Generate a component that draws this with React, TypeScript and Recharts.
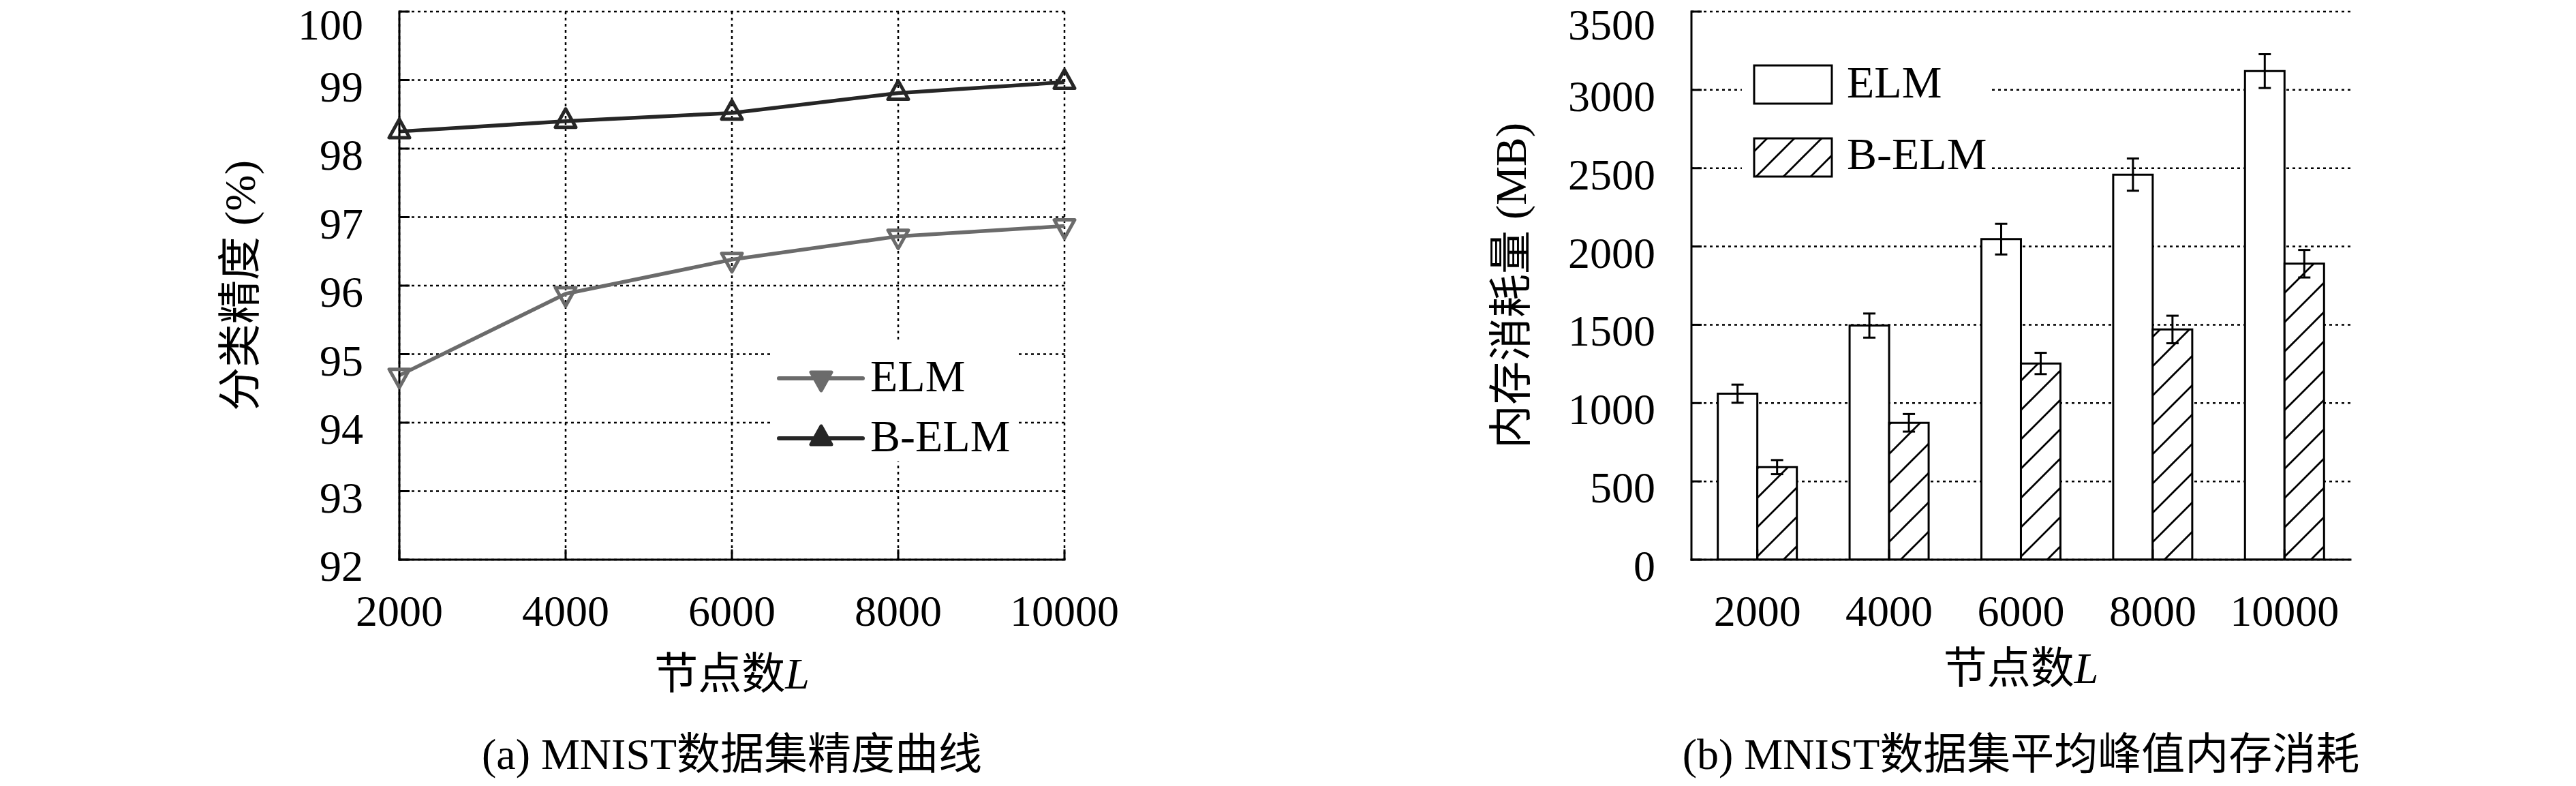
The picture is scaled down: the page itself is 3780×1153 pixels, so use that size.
import {
  Bar,
  BarChart,
  CartesianGrid,
  ErrorBar,
  Label,
  Legend,
  Line,
  LineChart,
  XAxis,
  YAxis,
} from "recharts";

// x categories shared by both panels
const nodeCounts = [2000, 4000, 6000, 8000, 10000];

// (a) accuracy, %
const elmAccuracy = [94.69, 95.88, 96.38, 96.72, 96.87];
const belmAccuracy = [98.25, 98.4, 98.52, 98.81, 98.97];
const accuracyTicks = [92, 93, 94, 95, 96, 97, 98, 99, 100];

// (b) peak memory, MB, with error half-widths
const elmMemory = [1060, 1495, 2047, 2459, 3120];
const elmMemoryErr = [58, 77, 98, 103, 108];
const belmMemory = [591, 874, 1253, 1470, 1890];
const belmMemoryErr = [45, 56, 68, 88, 88];
const memoryTicks = [0, 500, 1000, 1500, 2000, 2500, 3000, 3500];

const accuracyData = nodeCounts.map((n, i) => ({
  nodes: n,
  elm: elmAccuracy[i],
  belm: belmAccuracy[i],
}));

const memoryData = nodeCounts.map((n, i) => ({
  nodes: String(n),
  elm: elmMemory[i],
  elmErr: elmMemoryErr[i],
  belm: belmMemory[i],
  belmErr: belmMemoryErr[i],
}));

const FONT = '"Liberation Serif", "Noto Sans CJK SC", serif';
const FS = 64;
const KEY_FS = 66;
const CHART_W = 1890;
const CHART_H = 1153;
const TICK_LEN = 15;
const LABEL_GAP = 53;
const ELM_GRAY = "#6b6b6b";
const BELM_DARK = "#262626";

const frame = { stroke: "#000", strokeWidth: 3, strokeLinecap: "square" as const };

// top label would poke out of the page otherwise
const leftTick = (p: any) => (
  <g>
    <text
      x={p.x}
      y={Math.max(p.y + 31, 58)}
      textAnchor="end"
      fontFamily={FONT}
      fontSize={FS}
      fill="#000"
    >
      {p.payload.value}
    </text>
    <line x1={p.x + LABEL_GAP} x2={p.x + LABEL_GAP + TICK_LEN} y1={p.y} y2={p.y} stroke="#000" strokeWidth={3} />
  </g>
);

const bottomTick = (p: any) => (
  <g>
    <text x={p.x} y={p.y + 97} textAnchor="middle" fontFamily={FONT} fontSize={FS} fill="#000">
      {p.payload.value}
    </text>
    <line x1={p.x} x2={p.x} y1={p.y} y2={p.y - TICK_LEN} stroke="#000" strokeWidth={3} />
  </g>
);

const topTick = (p: any) => (
  <line x1={p.x} x2={p.x} y1={p.y} y2={p.y + TICK_LEN} stroke="#000" strokeWidth={3} />
);

const rightTick = (p: any) => (
  <line x1={p.x - TICK_LEN} x2={p.x} y1={p.y} y2={p.y} stroke="#000" strokeWidth={3} />
);

const yTitle = (text: string, offset: number) => (props: any) => {
  const vb = props.viewBox ?? { x: 0, y: 0, width: 0, height: 0 };
  const cx = vb.x + vb.width - offset;
  const cy = vb.y + vb.height / 2;
  return (
    <text
      x={cx}
      y={cy}
      transform={`rotate(-90 ${cx} ${cy})`}
      textAnchor="middle"
      dominantBaseline="central"
      fontFamily={FONT}
      fontSize={FS}
      fill="#000"
    >
      {text}
    </text>
  );
};

const xTitle = (caption: string, titleDrop: number) => (props: any) => {
  const vb = props.viewBox ?? { x: 0, y: 0, width: 0, height: 0 };
  const cx = vb.x + vb.width / 2;
  return (
    <g fontFamily={FONT} fontSize={FS} fill="#000">
      <text x={cx} y={vb.y + titleDrop} textAnchor="middle">
        节点数<tspan fontStyle="italic">L</tspan>
      </text>
      <text x={cx} y={vb.y + 307} textAnchor="middle">
        {caption}
      </text>
    </g>
  );
};

const trianglePath = (cx: number, cy: number, down: boolean) =>
  down
    ? `M${cx - 15},${cy - 9} L${cx + 15},${cy - 9} L${cx},${cy + 18} Z`
    : `M${cx - 15},${cy + 9} L${cx + 15},${cy + 9} L${cx},${cy - 18} Z`;

const triangleDot = (color: string, down: boolean) => (props: any) => {
  const { cx, cy, index } = props;
  if (cx == null || cy == null) return <g key={`d-${index}`} />;
  return (
    <path
      key={`d-${index}`}
      d={trianglePath(cx, cy, down)}
      fill="none"
      stroke={color}
      strokeWidth={5}
      strokeLinejoin="round"
    />
  );
};

const lineKeyRows = [
  { name: "ELM", color: ELM_GRAY, down: true, y: 55 },
  { name: "B-ELM", color: BELM_DARK, down: false, y: 143 },
];

const renderLineKey = () => (
  <div style={{ width: 360, height: 177, background: "#fff" }}>
    <svg width={360} height={177} style={{ display: "block", overflow: "visible" }}>
      {lineKeyRows.map((r) => (
        <g key={r.name}>
          <line x1={10} x2={133} y1={r.y} y2={r.y} stroke={r.color} strokeWidth={6} strokeLinecap="round" />
          <path d={trianglePath(72, r.y, r.down)} fill={r.color} stroke={r.color} strokeWidth={5} strokeLinejoin="round" />
          <text x={144} y={r.y + 19} fontFamily={FONT} fontSize={KEY_FS} fill="#000">
            {r.name}
          </text>
        </g>
      ))}
    </svg>
  </div>
);

const barKeyRows = [
  { name: "ELM", fill: "#fff", top: 16, base: 63 },
  { name: "B-ELM", fill: "url(#hatchKey)", top: 123, base: 168 },
];

const renderBarKey = () => (
  <div style={{ width: 362, height: 195, background: "#fff" }}>
    <svg width={362} height={195} style={{ display: "block", overflow: "visible" }}>
      <defs>
        <pattern id="hatchKey" patternUnits="userSpaceOnUse" width={40} height={40}>
          <rect width={40} height={40} fill="#fff" />
          <path d="M0,40 L40,0 M-10,10 L10,-10 M30,50 L50,30" stroke="#000" strokeWidth={2.8} />
        </pattern>
      </defs>
      {barKeyRows.map((r) => (
        <g key={r.name}>
          <rect x={18} y={r.top} width={114} height={56} fill={r.fill} stroke="#000" strokeWidth={3} />
          <text x={154} y={r.base} fontFamily={FONT} fontSize={KEY_FS} fill="#000">
            {r.name}
          </text>
        </g>
      ))}
    </svg>
  </div>
);

function AccuracyPanel() {
  return (
    <LineChart
      width={CHART_W}
      height={CHART_H}
      data={accuracyData}
      margin={{ top: 17, right: 328, bottom: 0, left: 386 }}
    >
      <CartesianGrid stroke="#000" strokeDasharray="4 5" strokeWidth={2.5} />
      <XAxis
        dataKey="nodes"
        type="number"
        domain={[2000, 10000]}
        ticks={nodeCounts}
        height={332}
        tickSize={0}
        tickMargin={0}
        tickLine={false}
        axisLine={frame}
        tick={bottomTick}
        label={<Label content={xTitle("(a) MNIST数据集精度曲线", 189)} />}
      />
      <XAxis
        xAxisId="top"
        orientation="top"
        dataKey="nodes"
        type="number"
        domain={[2000, 10000]}
        ticks={nodeCounts}
        height={0}
        tickSize={0}
        tickMargin={0}
        tickLine={false}
        axisLine={frame}
        tick={topTick}
      />
      <YAxis
        type="number"
        domain={[92, 100]}
        ticks={accuracyTicks}
        width={200}
        tickSize={0}
        tickMargin={LABEL_GAP}
        tickLine={false}
        axisLine={frame}
        tick={leftTick}
        label={<Label content={yTitle("分类精度 (%)", 234)} />}
      />
      <YAxis
        yAxisId="right"
        orientation="right"
        type="number"
        domain={[92, 100]}
        ticks={accuracyTicks}
        width={0}
        tickSize={0}
        tickMargin={0}
        tickLine={false}
        axisLine={frame}
        tick={rightTick}
      />
      <Legend
        layout="horizontal"
        verticalAlign="middle"
        align="center"
        content={renderLineKey}
        wrapperStyle={{ left: 1133, top: 500, width: 360, height: 177 }}
      />
      <Line
        dataKey="elm"
        name="ELM"
        stroke={ELM_GRAY}
        strokeWidth={5.5}
        strokeLinejoin="round"
        dot={triangleDot(ELM_GRAY, true)}
        activeDot={false}
        isAnimationActive={false}
      />
      <Line
        dataKey="belm"
        name="B-ELM"
        stroke={BELM_DARK}
        strokeWidth={5.5}
        strokeLinejoin="round"
        dot={triangleDot(BELM_DARK, false)}
        activeDot={false}
        isAnimationActive={false}
      />
    </LineChart>
  );
}

function MemoryPanel() {
  return (
    <BarChart
      width={CHART_W}
      height={CHART_H}
      data={memoryData}
      margin={{ top: 17, right: 331, bottom: 0, left: 392 }}
      barCategoryGap="20%"
      barGap={0}
    >
      <defs>
        <pattern id="hatchBar" patternUnits="userSpaceOnUse" width={43} height={43}>
          <rect width={43} height={43} fill="#fff" />
          <path d="M0,43 L43,0 M-11,11 L11,-11 M32,54 L54,32" stroke="#000" strokeWidth={2.8} />
        </pattern>
      </defs>
      <CartesianGrid vertical={false} stroke="#000" strokeDasharray="4 5" strokeWidth={2.5} />
      <XAxis
        dataKey="nodes"
        height={332}
        tickSize={0}
        tickMargin={0}
        tickLine={false}
        axisLine={frame}
        tick={bottomTick}
        label={<Label content={xTitle("(b) MNIST数据集平均峰值内存消耗", 181)} />}
      />
      <XAxis
        xAxisId="top"
        orientation="top"
        dataKey="nodes"
        height={0}
        tickSize={0}
        tickMargin={0}
        tickLine={false}
        axisLine={frame}
        tick={topTick}
      />
      <YAxis
        type="number"
        domain={[0, 3500]}
        ticks={memoryTicks}
        allowDataOverflow
        width={200}
        tickSize={0}
        tickMargin={LABEL_GAP}
        tickLine={false}
        axisLine={frame}
        tick={leftTick}
        label={<Label content={yTitle("内存消耗量 (MB)", 265)} />}
      />
      <YAxis
        yAxisId="right"
        orientation="right"
        type="number"
        domain={[0, 3500]}
        ticks={memoryTicks}
        allowDataOverflow
        width={0}
        tickSize={0}
        tickMargin={0}
        tickLine={false}
        axisLine={frame}
        tick={rightTick}
      />
      <Legend
        layout="horizontal"
        verticalAlign="middle"
        align="center"
        content={renderBarKey}
        wrapperStyle={{ left: 666, top: 80, width: 362, height: 195 }}
      />
      <Bar dataKey="elm" name="ELM" fill="#fff" stroke="#000" strokeWidth={3} isAnimationActive={false}>
        <ErrorBar dataKey="elmErr" direction="y" width={9} stroke="#000" strokeWidth={3} />
      </Bar>
      <Bar dataKey="belm" name="B-ELM" fill="url(#hatchBar)" stroke="#000" strokeWidth={3} isAnimationActive={false}>
        <ErrorBar dataKey="belmErr" direction="y" width={9} stroke="#000" strokeWidth={3} />
      </Bar>
    </BarChart>
  );
}

export default function App() {
  return (
    <div
      style={{
        position: "absolute",
        left: 0,
        top: 0,
        width: 3780,
        height: 1153,
        background: "#fff",
        overflow: "hidden",
      }}
    >
      <div style={{ position: "absolute", left: 0, top: 0 }}>
        <AccuracyPanel />
      </div>
      <div style={{ position: "absolute", left: CHART_W, top: 0 }}>
        <MemoryPanel />
      </div>
    </div>
  );
}
